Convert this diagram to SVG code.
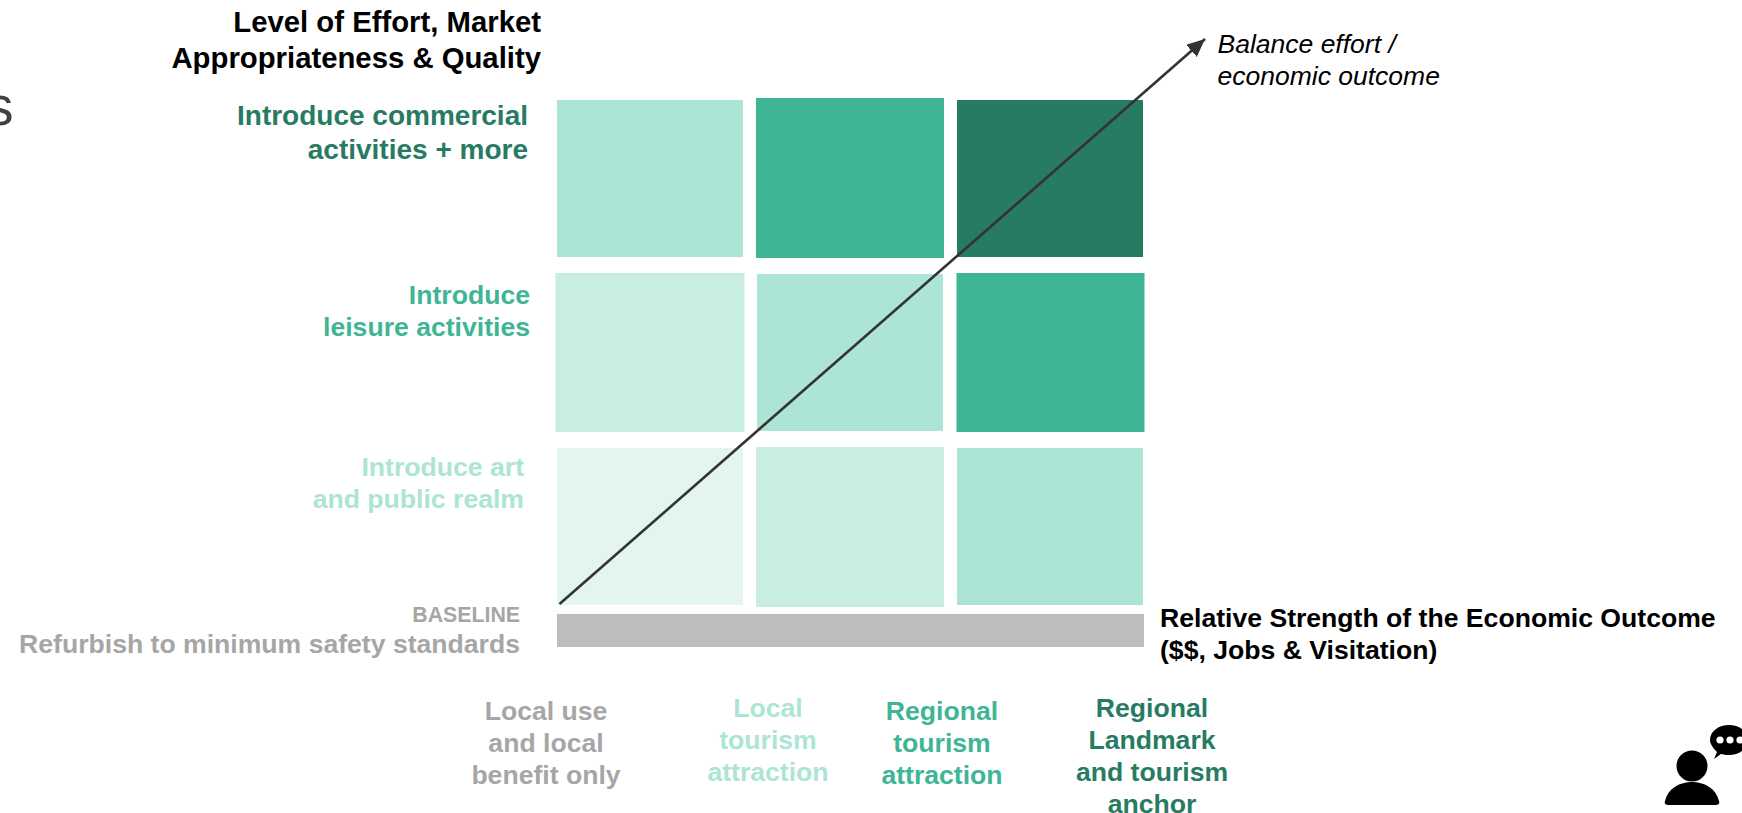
<svg xmlns="http://www.w3.org/2000/svg" width="1742" height="813" viewBox="0 0 1742 813">
<defs>
<style>
text{font-family:"Liberation Sans",Arial,sans-serif}
.b{font-weight:700;font-size:26.600px}
.t{font-size:29.300px}
.c{font-size:28px}
.r{text-anchor:end}
.m{text-anchor:middle}
.k{fill:#000}
.d{fill:#287b63}
.g{fill:#3eb595}
.l{fill:#ace5d5}
.y{fill:#a6a6a6}
.xl{fill:#e2f5f0}
.ll{fill:#c8eee3}
</style>
<marker id="arrow" markerUnits="userSpaceOnUse" markerWidth="20" markerHeight="18" refX="18" refY="8" orient="auto">
<path d="M0 0L18 8L0 16Z" fill="#333"/>
</marker>
</defs>
<rect width="1742" height="813" fill="#fff"/>
<text x="-14" y="125" font-size="55" fill="#404040">s</text>
<g id="cells">
<rect id="c11" class="l" x="557" y="100" width="186" height="157"/>
<rect id="c12" class="g" x="756" y="98" width="188" height="160"/>
<rect id="c13" class="d" x="957" y="100" width="186" height="157"/>
<rect id="c21" class="ll" x="555.500" y="273" width="189" height="159"/>
<rect id="c22" class="l" x="757" y="274" width="186" height="157"/>
<rect id="c23" class="g" x="956.500" y="273" width="188" height="159"/>
<rect id="c31" class="xl" x="557" y="448" width="186" height="157"/>
<rect id="c32" class="ll" x="756" y="447" width="188" height="160"/>
<rect id="c33" class="l" x="957" y="448" width="186" height="157"/>
<rect id="baseline-bar" x="557" y="614" width="587" height="33" fill="#bdbdbd"/>
</g>
<g id="connectors">
<line x1="559.500" y1="604" x2="1205" y2="39" stroke="#333" stroke-width="2.600" marker-end="url(#arrow)"/>
</g>
<g id="axis-y">
<text class="b t r k" x="541" y="32">Level of Effort, Market</text>
<text class="b t r k" x="541" y="68">Appropriateness &amp; Quality</text>
</g>
<g id="level-commercial">
<text class="b c r d" x="528" y="125">Introduce commercial</text>
<text class="b c r d" x="528" y="159">activities + more</text>
</g>
<g id="level-leisure">
<text class="b r g" x="530" y="303.500">Introduce</text>
<text class="b r g" x="530" y="335.500">leisure activities</text>
</g>
<g id="level-art">
<text class="b r l" x="524" y="476">Introduce art</text>
<text class="b r l" x="524" y="508">and public realm</text>
</g>
<g id="level-baseline">
<text class="b r y" x="520" y="622" style="font-size:21.300px">BASELINE</text>
<text class="b r y" x="520" y="653">Refurbish to minimum safety standards</text>
</g>
<g id="axis-x">
<text class="b k" x="1160" y="627">Relative Strength of the Economic Outcome</text>
<text class="b k" x="1160" y="658.500">($$, Jobs &amp; Visitation)</text>
</g>
<g id="arrow-label">
<text x="1217.500" y="53" font-size="26.500" font-style="italic">Balance effort /</text>
<text x="1217.500" y="85" font-size="26.500" font-style="italic">economic outcome</text>
</g>
<g id="col-1">
<text class="b m y" x="546" y="720">Local use</text>
<text class="b m y" x="546" y="752">and local</text>
<text class="b m y" x="546" y="784">benefit only</text>
</g>
<g id="col-2">
<text class="b m l" x="768" y="717">Local</text>
<text class="b m l" x="768" y="749">tourism</text>
<text class="b m l" x="768" y="781">attraction</text>
</g>
<g id="col-3">
<text class="b m g" x="942" y="720">Regional</text>
<text class="b m g" x="942" y="752">tourism</text>
<text class="b m g" x="942" y="784">attraction</text>
</g>
<g id="col-4">
<text class="b m d" x="1152" y="717">Regional</text>
<text class="b m d" x="1152" y="749">Landmark</text>
<text class="b m d" x="1152" y="781">and tourism</text>
<text class="b m d" x="1152" y="812.500">anchor</text>
</g>
<g id="speaker-icon">
<circle cx="1692" cy="766" r="15.500"/>
<path d="M1665 801C1668 788 1680 782 1692 782C1704 782 1716 788 1719 801C1720 804 1718 805 1715 805H1669C1666 805 1664 804 1665 801Z"/>
<path d="M1714 759L1717 752C1712 747 1710 743 1710 740C1710 731 1719 725 1729 725C1739 725 1748 731 1748 740C1748 749 1739 755 1729 755C1726 755 1723 754.500 1721 754Z"/>
<circle cx="1720" cy="740" r="3.600" fill="#fff"/>
<circle cx="1730" cy="740" r="3.600" fill="#fff"/>
<circle cx="1740" cy="740" r="3.600" fill="#fff"/>
</g>
</svg>
